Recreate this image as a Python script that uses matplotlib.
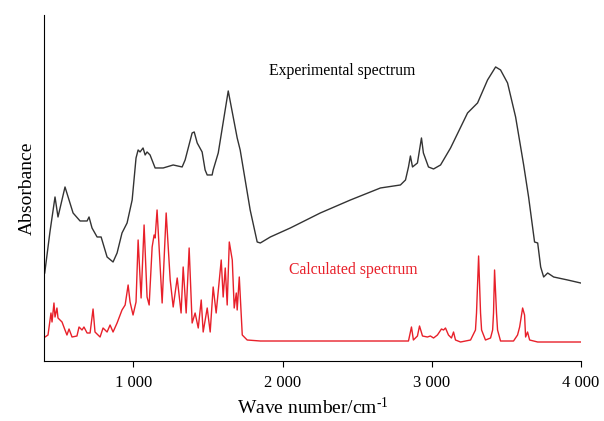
import numpy as np
import matplotlib
matplotlib.use("Agg")
import matplotlib.pyplot as plt
from matplotlib.ticker import FuncFormatter

plt.rcParams['font.family'] = ['Liberation Serif', 'DejaVu Serif']
plt.rcParams['mathtext.fontset'] = 'custom'
plt.rcParams['mathtext.rm'] = 'Liberation Serif'
plt.rcParams['mathtext.it'] = 'Liberation Serif:italic'

# experimental spectrum: wave number (cm-1) and absorbance (arb. units)
exp_wn = [405, 440, 474, 494, 541, 595, 642, 689, 702, 722, 756, 783, 803, 823,
          863, 890, 923, 957, 991, 1017, 1031, 1044, 1064, 1078, 1091, 1111, 1145,
          1199, 1266, 1326, 1346, 1393, 1407, 1427, 1460, 1480, 1494, 1527, 1534,
          1568, 1635, 1695, 1715, 1782, 1829, 1850, 1917, 2051, 2252, 2454, 2655,
          2789, 2823, 2843, 2856, 2870, 2903, 2930, 2943, 2977, 3011, 3058, 3125,
          3239, 3306, 3373, 3427, 3460, 3507, 3561, 3615, 3648, 3688, 3709, 3729,
          3749, 3776, 3816, 3910, 3997]
exp_ab = [88, 129, 164, 144, 174, 148, 140, 140, 144, 133, 124, 124, 114, 104,
          99, 108, 128, 138, 161, 203, 211, 209, 213, 206, 209, 206, 193,
          193, 196, 194, 201, 228, 229, 218, 209, 191, 186, 186, 191,
          208, 270, 223, 211, 151, 119, 118, 124, 133, 148, 161, 173,
          176, 181, 194, 205, 194, 198, 223, 208, 194, 192, 196, 213,
          248, 258, 281, 294, 291, 278, 244, 196, 164, 119, 118, 94,
          84, 88, 84, 81, 78]

# calculated spectrum
calc_wn = [407, 427, 447, 454, 467, 474, 487, 494, 521, 541, 554, 568, 588, 621,
           635, 655, 668, 689, 709, 729, 742, 776, 796, 823, 843, 863, 890, 923,
           944, 964, 977, 997, 1017, 1031, 1051, 1071, 1091, 1105, 1125, 1138,
           1145, 1158, 1192, 1219, 1246, 1266, 1293, 1319, 1333, 1353, 1373, 1393,
           1413, 1434, 1454, 1467, 1494, 1514, 1534, 1554, 1588, 1601, 1615, 1628,
           1642, 1662, 1675, 1689, 1695, 1709, 1729, 1762, 1850, 2843, 2863, 2876,
           2903, 2917, 2937, 2970, 2990, 3011, 3037, 3064, 3078, 3091, 3111, 3131,
           3145, 3158, 3192, 3259, 3292, 3299, 3313, 3326, 3333, 3359, 3393, 3407,
           3413, 3420, 3433, 3440, 3460, 3547, 3574, 3588, 3608, 3621, 3628, 3641,
           3655, 3709, 3997]
calc_ab = [24, 26, 48, 39, 58, 44, 53, 43, 39, 31, 26, 32, 24, 25,
           34, 31, 34, 28, 28, 52, 29, 24, 33, 29, 36, 29, 38, 51,
           56, 76, 59, 46, 59, 121, 63, 136, 64, 56, 114, 126,
           123, 151, 58, 148, 81, 54, 83, 48, 94, 48, 113, 38,
           48, 33, 61, 29, 53, 29, 74, 48, 101, 64, 93, 56,
           119, 101, 53, 68, 51, 84, 26, 21, 20, 20, 34, 21,
           25, 35, 25, 24, 25, 23, 26, 32, 31, 33, 26, 23,
           29, 21, 19, 21, 31, 48, 105, 48, 31, 21, 23, 31,
           48, 91, 48, 31, 20, 20, 26, 34, 53, 46, 24, 29,
           21, 19, 19]

fig = plt.figure(figsize=(6.04, 4.21), dpi=100)
ax = fig.add_axes([0.0728, 0.1425, 0.8893, 0.822])
ax.plot(exp_wn, exp_ab, color='#333333', lw=1.0)
ax.plot(calc_wn, calc_ab, color='#e8202a', lw=1.0)

ax.set_xlim(400, 4000)
ax.set_ylim(0, 346)
ax.spines['top'].set_visible(False)
ax.spines['right'].set_visible(False)
ax.set_yticks([])
ax.set_xticks([1000, 2000, 3000, 4000])
ax.xaxis.set_major_formatter(FuncFormatter(lambda v, p: f'{int(v):,}'.replace(',', ' ')))
ax.tick_params(axis='x', direction='out', length=4, width=0.8, labelsize=12, pad=6)

ax.set_xlabel('Wave number/cm$^{\\mathrm{\u2010}1}$', fontsize=14, labelpad=4)
ax.set_ylabel('Absorbance', fontsize=14, labelpad=6)

ax.text(2400, 290, 'Experimental spectrum', fontsize=11.3, color='black',
        ha='center', va='center')
ax.text(2475, 91, 'Calculated spectrum', fontsize=11.3, color='#e8202a',
        ha='center', va='center')

plt.savefig('out.png', dpi=100)
